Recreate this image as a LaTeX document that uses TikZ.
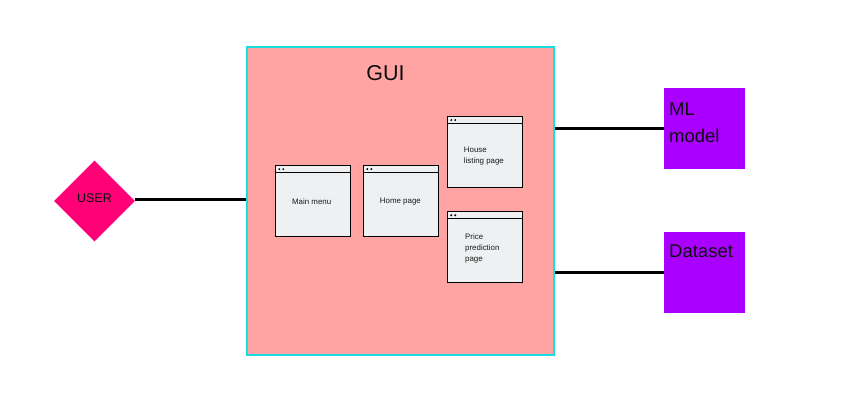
\documentclass[tikz,border=0pt]{standalone}
\usepackage{fontspec}
\setmainfont{Liberation Sans}
\usetikzlibrary{shapes.geometric}
\definecolor{guifill}{HTML}{FFA3A3}
\definecolor{guiline}{HTML}{1ADDE0}
\definecolor{userfill}{HTML}{FF0077}
\definecolor{extfill}{HTML}{AA00FF}
\definecolor{pagefill}{HTML}{EEF0F2}
\tikzset{
    pagebox/.style={draw=black, line width=1.4pt, fill=pagefill, inner sep=0pt,
        minimum width=74.5pt, minimum height=71pt,
        path picture={
            \draw[line width=1.4pt] ([yshift=-7pt]path picture bounding box.north west) -- ([yshift=-7pt]path picture bounding box.north east);
            \fill[black] ([xshift=3.5pt,yshift=-3.6pt]path picture bounding box.north west) circle (1.1pt);
            \fill[black] ([xshift=7.5pt,yshift=-3.6pt]path picture bounding box.north west) circle (1.1pt);
        }},
    pagetext/.style={font=\fontsize{7.9}{11}\selectfont, text=black!90, inner sep=0pt, align=left},
    extbox/.style={fill=extfill, inner sep=0pt, minimum width=81pt, minimum height=81pt},
    exttext/.style={font=\fontsize{18.5}{26.5}\selectfont, text=black!95, inner sep=0pt, align=left, anchor=west},
    link/.style={line width=2.6pt, black}
}
\begin{document}
\begin{tikzpicture}[x=1pt, y=-1pt]
    \useasboundingbox (0, 0) rectangle (848, 418);

    \node[draw=guiline, line width=2pt, fill=guifill, inner sep=0pt, minimum width=307pt, minimum height=308pt] (gui) at (400.5, 201) {};
    \node[font=\fontsize{21.5}{26}\selectfont, text=black!95, inner sep=0pt] (guititle) at (385.5, 73) {GUI};

    \node[diamond, aspect=1, fill=userfill, inner sep=0pt, minimum width=81pt, minimum height=81pt] (user) at (94.5, 201) {};
    \node[font=\fontsize{12.5}{15}\selectfont, text=black!95, inner sep=0pt] (usertext) at (94.5, 198) {USER};

    \node[pagebox] (mainmenu) at (313, 201) {};
    \node[pagebox] (homepage) at (401, 201) {};
    \node[pagebox] (housepage) at (485, 152) {};
    \node[pagebox] (pricepage) at (485, 247.2) {};

    \node[pagetext] (mainmenutext) at (311.7, 201.5) {Main menu};
    \node[pagetext] (homepagetext) at (400.4, 201.5) {Home page};
    \node[pagetext, anchor=west] (housepagetext) at (463.7, 156) {House\\listing page};
    \node[pagetext, anchor=west] (pricepagetext) at (465, 248) {Price\\prediction\\page};

    \node[extbox] (mlmodel) at (704.8, 128.5) {};
    \node[extbox] (dataset) at (704.8, 272.5) {};
    \node[exttext] (mlmodeltext) at (669, 122.5) {ML\\model};
    \node[exttext] (datasettext) at (669, 251) {Dataset};

    \coordinate (userlink) at (0, 199.5);
    \coordinate (mllink) at (0, 128.3);
    \coordinate (datalink) at (0, 272.3);

    \draw[link] (userlink -| user.east) -- (userlink -| gui.west);
    \draw[link] (mllink -| gui.east) -- (mllink -| mlmodel.west);
    \draw[link] (datalink -| gui.east) -- (datalink -| dataset.west);

\end{tikzpicture}
\end{document}
